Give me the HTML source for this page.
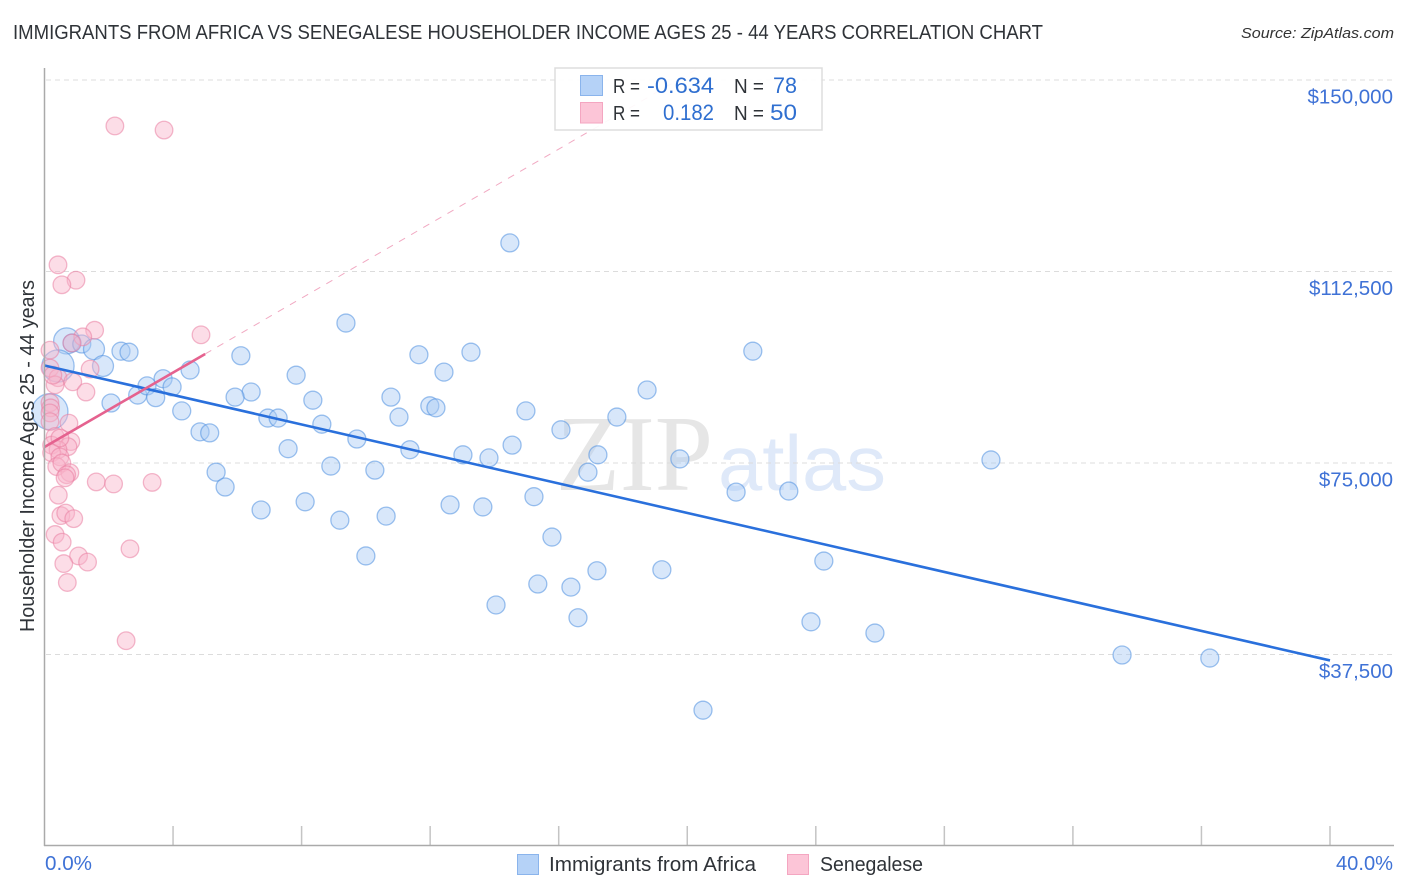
<!DOCTYPE html>
<html lang="en">
<head>
<meta charset="utf-8">
<title>Immigrants from Africa vs Senegalese Householder Income Correlation Chart</title>
<style>
html,body{margin:0;padding:0;background:#fff;width:1406px;height:892px;overflow:hidden}
svg{display:block}
text{font-family:"Liberation Sans",sans-serif}
</style>
</head>
<body>
<svg id="chart" width="1406" height="892" viewBox="0 0 1406 892">
  <text x="13" y="39" font-size="20" fill="#2f3338" textLength="1030" lengthAdjust="spacingAndGlyphs">IMMIGRANTS FROM AFRICA VS SENEGALESE HOUSEHOLDER INCOME AGES 25 - 44 YEARS CORRELATION CHART</text>
  <text x="1241" y="38" font-size="15" font-style="italic" fill="#333" textLength="153" lengthAdjust="spacingAndGlyphs">Source: ZipAtlas.com</text>

  <g>
    <text x="556" y="490" font-size="108" fill="#e6e6e6" textLength="157" lengthAdjust="spacingAndGlyphs" style="font-family:'Liberation Serif',serif">ZIP</text>
    <text x="718" y="490" font-size="78" fill="#dfe9f9" textLength="168" lengthAdjust="spacingAndGlyphs">atlas</text>
  </g>

  <g id="grid"></g>
  <g id="xticks"></g>
  <g id="ylabels"></g>
  <g id="bluePoints"></g>
  <g id="pinkPoints"></g>
  <g id="trends"></g>

  <line x1="44.5" y1="68" x2="44.5" y2="846" stroke="#aaa" stroke-width="1.5"/>
  <line x1="44" y1="845.5" x2="1394" y2="845.5" stroke="#aaa" stroke-width="1.5"/>

  <text x="34" y="456" font-size="20" fill="#2f3338" text-anchor="middle" textLength="352" lengthAdjust="spacingAndGlyphs" transform="rotate(-90 34 456)">Householder Income Ages 25 - 44 years</text>

  <text x="45" y="870" font-size="20" fill="#3f72d6" textLength="47" lengthAdjust="spacingAndGlyphs">0.0%</text>
  <text x="1336" y="870" font-size="20" fill="#3f72d6" textLength="57" lengthAdjust="spacingAndGlyphs">40.0%</text>

  <g>
    <rect x="555" y="68" width="267" height="62" fill="#fff" fill-opacity="0.92" stroke="#ddd" stroke-width="1.5"/>
    <rect x="580.5" y="75.5" width="22" height="20" fill="#b5d2f7" stroke="#8ab4ec" stroke-width="1"/>
    <rect x="580.5" y="102.5" width="22" height="20.5" fill="#fcc5d7" stroke="#f4a6c1" stroke-width="1"/>
    <text x="613" y="93" font-size="20" fill="#2f3338" textLength="27" lengthAdjust="spacingAndGlyphs">R =</text>
    <text x="647" y="93" font-size="22" fill="#2f6fd0" textLength="67" lengthAdjust="spacingAndGlyphs">-0.634</text>
    <text x="734" y="93" font-size="20" fill="#2f3338" textLength="30" lengthAdjust="spacingAndGlyphs">N =</text>
    <text x="773" y="93" font-size="22" fill="#2f6fd0" textLength="24" lengthAdjust="spacingAndGlyphs">78</text>
    <text x="613" y="120" font-size="20" fill="#2f3338" textLength="27" lengthAdjust="spacingAndGlyphs">R =</text>
    <text x="663" y="120" font-size="22" fill="#2f6fd0" textLength="51" lengthAdjust="spacingAndGlyphs">0.182</text>
    <text x="734" y="120" font-size="20" fill="#2f3338" textLength="30" lengthAdjust="spacingAndGlyphs">N =</text>
    <text x="770" y="120" font-size="22" fill="#2f6fd0" textLength="27" lengthAdjust="spacingAndGlyphs">50</text>
  </g>

  <g>
    <rect x="517.5" y="854.5" width="21" height="20" fill="#b5d2f7" stroke="#8ab4ec" stroke-width="1"/>
    <text x="549" y="871" font-size="20" fill="#2f3338" textLength="207" lengthAdjust="spacingAndGlyphs">Immigrants from Africa</text>
    <rect x="787.5" y="854.5" width="21" height="20" fill="#fcc5d7" stroke="#f4a6c1" stroke-width="1"/>
    <text x="820" y="871" font-size="20" fill="#2f3338" textLength="103" lengthAdjust="spacingAndGlyphs">Senegalese</text>
  </g>
</svg>
<script>
const yTicks = [150000, 112500, 75000, 37500];
const yTickLabels = ["$150,000", "$112,500", "$75,000", "$37,500"];
const xTicks = [4, 8, 12, 16, 20, 24, 28, 32, 36, 40];

const blueX = [0.69,0.86,1.16,1.54,1.82,0.42,0.17,2.07,2.38,2.63,2.90,3.19,3.46,3.69,3.97,4.53,4.27,4.84,5.14,
  14.48,9.38,22.04,11.65,13.27,6.11,7.83,12.43,18.75,10.78,6.43,5.93,8.35,11.99,12.18,14.98,6.95,7.27,11.03,17.81,
  8.63,16.07,9.72,7.58,11.37,14.55,13.02,13.83,17.22,19.77,29.45,8.91,10.28,16.91,5.34,5.62,21.52,23.16,15.23,8.11,
  6.74,12.62,13.64,10.63,9.19,15.79,10.00,24.25,19.21,17.19,15.35,16.38,14.05,16.60,23.85,25.84,33.53,36.26,20.49];
const blueY = [98900,98500,98300,97300,94000,94000,85050,86750,96900,96700,88300,90100,87800,91500,89900,93200,85200,81100,80900,
  118100,102400,96900,96200,96700,96000,92200,92800,89300,87900,88900,87900,87300,86200,85800,85200,83800,83800,84000,84000,
  82600,81500,79700,77800,77600,78500,76600,76000,76600,75800,75600,74400,73600,73200,73200,70300,69300,69500,68400,67400,
  65800,66800,66400,64600,63800,60500,56800,55800,54100,53900,51300,50700,47200,44700,43900,41700,37400,36800,26600];
const bluePopulation = [2.1,1,1,1.36,1.36,3.2,4,1,1,1,1,1,1,1,1,1,1,1,1,
  1,1,1,1,1,1,1,1,1,1,1,1,1,1,1,1,1,1,1,1,
  1,1,1,1,1,1,1,1,1,1,1,1,1,1,1,1,1,1,1,1,
  1,1,1,1,1,1,1,1,1,1,1,1,1,1,1,1,1,1,1];

const pinkX = [2.19,3.72,0.42,0.98,0.54,1.56,1.19,0.85,0.17,4.87,1.42,0.17,0.42,0.88,0.33,1.29,0.17,0.19,0.17,0.76,0.17,0.33,0.82,0.73,0.22,
  0.42,0.22,0.48,0.38,0.54,0.79,0.69,0.64,1.61,2.15,3.35,0.43,0.51,0.66,0.91,0.33,0.55,2.66,1.06,1.34,0.60,0.71,2.54,0.26,0.48];
const pinkY = [141000,140200,113800,110800,109900,101000,99700,98500,97100,100100,93400,93600,91700,90900,90300,88900,86800,85800,84800,82800,83100,80200,79200,78200,78500,
  77600,77000,76200,74300,75000,73100,72700,72100,71300,70900,71200,68700,64700,65200,64100,61000,59500,58200,56800,55600,55300,51600,40200,92200,79900];

const blueTrendX = [0, 40];
const blueTrendY = [94100, 36340];
const pinkTrendX = [0, 5];
const pinkTrendY = [78140, 96350];
const pinkTrendExtendX = [5, 40];
const pinkTrendExtendY = [96350, 224000];

const SVG_NS = "http://www.w3.org/2000/svg";
function xScale(v){ return 44.5 + v * (1330 - 44.5) / 40; }
function yScale(v){ return 80 + (150000 - v) * (654.5 - 80) / 112500; }
function rScale(p){ return 9 * Math.sqrt(p); }
function make(tag, attrs, parent){
  const el = document.createElementNS(SVG_NS, tag);
  for (const k in attrs) el.setAttribute(k, attrs[k]);
  parent.appendChild(el);
  return el;
}
const grid = document.getElementById("grid");
const ylabels = document.getElementById("ylabels");
yTicks.forEach(function(t, i){
  const line = make("line", {x1:46, x2:1394, y1:yScale(t), y2:yScale(t), stroke:"#dcdcdc", "stroke-width":1, "stroke-dasharray":"5 4"}, grid);
  
  
  const label = make("text", {x:1393, y:yScale(t) + 23.5, "font-size":20.5, fill:"#3f72d6", "text-anchor":"end"}, ylabels);
  label.textContent = yTickLabels[i];
  
  
});
const xticks = document.getElementById("xticks");
xTicks.forEach(function(t){
  const tick = make("line", {x1:xScale(t), x2:xScale(t), y1:826, y2:845, stroke:"#c4c4c4", "stroke-width":1.5}, xticks);
  
  
});
const blueGroup = document.getElementById("bluePoints");
blueX.forEach(function(v, i){
  const c = make("circle", {cx:xScale(v), cy:yScale(blueY[i]), r:rScale(bluePopulation[i]), fill:"#a9c9f5", "fill-opacity":0.45, stroke:"#4f8fe0", "stroke-opacity":0.55, "stroke-width":1.3}, blueGroup);
  
  
});
const pinkGroup = document.getElementById("pinkPoints");
pinkX.forEach(function(v, i){
  const c = make("circle", {cx:xScale(v), cy:yScale(pinkY[i]), r:8.8, fill:"#f9b4ca", "fill-opacity":0.45, stroke:"#ea7fa3", "stroke-opacity":0.55, "stroke-width":1.3}, pinkGroup);
  
  
});
const trends = document.getElementById("trends");
const clip = make("clipPath", {id:"plotClip"}, trends);
make("rect", {x:45, y:68, width:1349, height:777}, clip);
const dashLine = make("line", {x1:xScale(pinkTrendExtendX[0]), y1:yScale(pinkTrendExtendY[0]), x2:xScale(pinkTrendExtendX[1]), y2:yScale(pinkTrendExtendY[1]), stroke:"#e5628f", "stroke-opacity":0.55, "stroke-width":1, "stroke-dasharray":"7 7", "clip-path":"url(#plotClip)"}, trends);


const blueLine = make("line", {x1:xScale(blueTrendX[0]), y1:yScale(blueTrendY[0]), x2:xScale(blueTrendX[1]), y2:yScale(blueTrendY[1]), stroke:"#2a70dc", "stroke-width":2.6}, trends);


const pinkLine = make("line", {x1:xScale(pinkTrendX[0]), y1:yScale(pinkTrendY[0]), x2:xScale(pinkTrendX[1]), y2:yScale(pinkTrendY[1]), stroke:"#e5628f", "stroke-width":2.6}, trends);


</script>
</body>
</html>
